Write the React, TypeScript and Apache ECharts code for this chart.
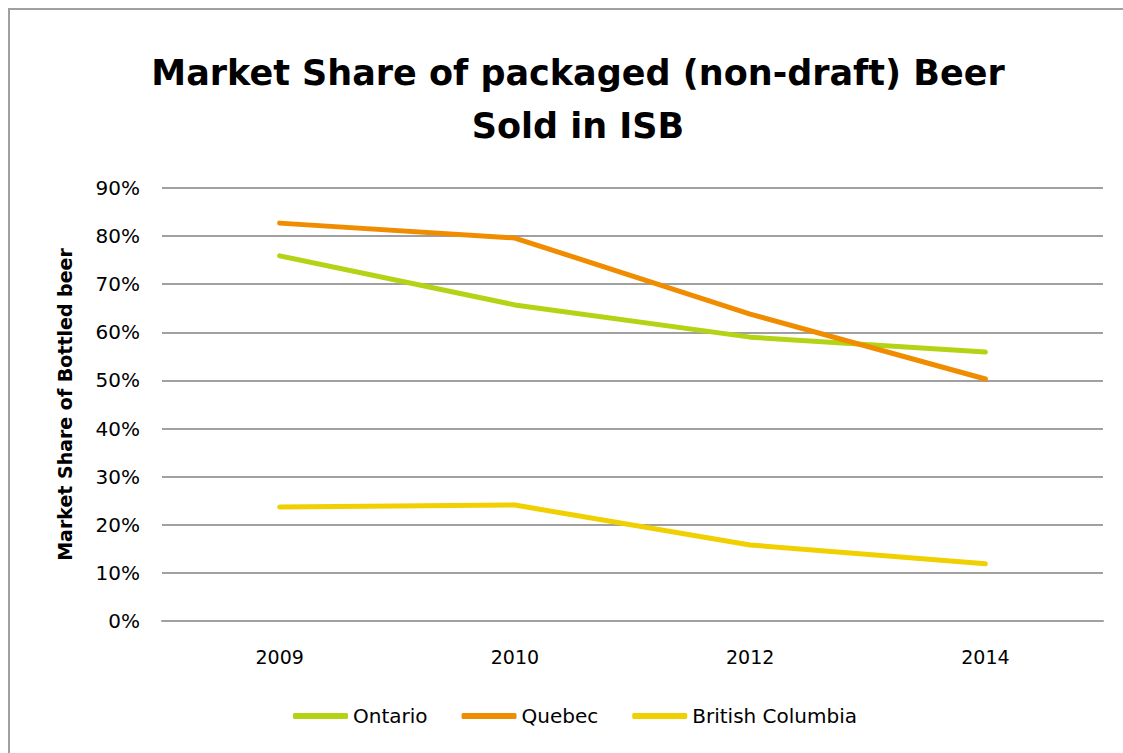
import React, { useEffect, useRef } from "react";
import * as echarts from "echarts";

const years = ["2009", "2010", "2012", "2014"];
const ontario = [75.9, 65.7, 59.0, 55.9];
const quebec = [82.7, 79.6, 63.8, 50.3];
const britishColumbia = [23.7, 24.1, 15.8, 11.9];
const seriesNames = ["Ontario", "Quebec", "British Columbia"];
const colors = ["#b3d414", "#f08c00", "#f0d000"];

const FONT = "'DejaVu Sans', 'Liberation Sans', sans-serif";

export default function App() {
  const ref = useRef<HTMLDivElement>(null);
  useEffect(() => {
    const chart = echarts.init(ref.current!, null, { renderer: "svg" });
    const data = [ontario, quebec, britishColumbia];
    chart.setOption({
      animation: false,
      backgroundColor: "#ffffff",
      title: {
        text: "Market Share of packaged (non-draft) Beer\nSold in ISB",
        left: 573,
        top: 41,
        textAlign: "center",
        textStyle: {
          fontFamily: FONT,
          fontSize: 35,
          fontWeight: "bold",
          color: "#000",
          lineHeight: 53,
        },
      },
      graphic: [
        {
          type: "rect",
          shape: { x: 9, y: 9, width: 1140, height: 780 },
          style: { fill: "none", stroke: "#a0a0a0", lineWidth: 2 },
          silent: true,
        },
      ],
      legend: {
        top: 701,
        left: 288,
        itemWidth: 55,
        itemHeight: 6,
        itemGap: 34,
        icon: "roundRect",
        textStyle: { fontFamily: FONT, fontSize: 20, color: "#000" },
        data: seriesNames,
      },
      grid: { left: 162, right: 20, top: 188, bottom: 132, containLabel: false },
      xAxis: {
        type: "category",
        data: years,
        boundaryGap: true,
        axisLine: { lineStyle: { color: "#a0a0a0", width: 2 } },
        axisTick: { show: false },
        axisLabel: { fontFamily: FONT, fontSize: 19, color: "#000", margin: 26 },
      },
      yAxis: {
        type: "value",
        min: 0,
        max: 90,
        interval: 10,
        name: "Market Share of Bottled beer",
        nameLocation: "middle",
        nameGap: 88,
        nameTextStyle: { fontFamily: FONT, fontSize: 19, fontWeight: "bold", color: "#000" },
        axisLine: { show: false },
        axisTick: { show: false },
        splitLine: { lineStyle: { color: "#a0a0a0", width: 2 } },
        axisLabel: { fontFamily: FONT, fontSize: 20, color: "#000", margin: 22, formatter: "{value}%" },
      },
      series: seriesNames.map((name, i) => ({
        name,
        type: "line",
        data: data[i],
        color: colors[i],
        symbol: "none",
        lineStyle: { width: 5, color: colors[i], cap: "round", join: "round" },
      })),
    });
    return () => chart.dispose();
  }, []);
  return (
    <div
      ref={ref}
      style={{ position: "absolute", left: 0, top: 0, width: 1123, height: 753 }}
    />
  );
}
